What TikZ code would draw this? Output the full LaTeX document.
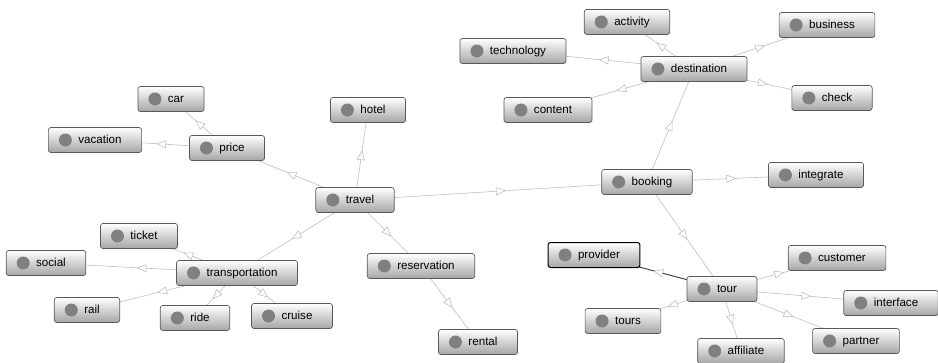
\documentclass[tikz,border=0pt]{standalone}
\usepackage{fontspec}
\setmainfont{Liberation Sans}
\usetikzlibrary{arrows.meta,decorations.markings,backgrounds}

\tikzset{
  term/.style={draw=black!65,line width=0.7pt,rounded corners=2.5pt,
    top color=white,bottom color=black!35,minimum height=25pt,
    inner xsep=0pt,inner ysep=0pt,font=\fontsize{11.6}{13}\selectfont,
    text height=8.5pt,text depth=2.5pt,
    execute at begin node={\hspace*{30pt}},
    execute at end node={\hspace*{20pt}},
    path picture={\fill[black!50]([xshift=17pt]path picture bounding box.west)circle(6.5pt);}},
  link/.style={color=black!25,line width=0.6pt,postaction={decorate},
    decoration={markings,mark=at position 0.5 with
      {\arrow[xshift=5pt]{Triangle[fill=white,color=black!25,line width=0.6pt,length=10pt,width=8pt]}}}},
  picked/.style={color=black!80,line width=0.9pt},
}

\begin{document}
\begin{tikzpicture}[x=1pt,y=-1pt]
                \useasboundingbox(0,0)rectangle(938,362);
                % Terms
                \node[term](travel)at(355,200){travel};
                \node[term](price)at(227,148){price};
                \node[term](car)at(171,99){car};
                \node[term](vacation)at(95,140){vacation};
                \node[term](hotel)at(368,110){hotel};
                \node[term](transportation)at(237,273){transportation};
                \node[term](ticket)at(139,236){ticket};
                \node[term](social)at(46,263){social};
                \node[term](rail)at(87,310){rail};
                \node[term](ride)at(195,318){ride};
                \node[term](cruise)at(292,316){cruise};
                \node[term](reservation)at(421,266){reservation};
                \node[term](rental)at(478,342){rental};
                \node[term](booking)at(647,182){booking};
                \node[term](integrate)at(816,175){integrate};
                \node[term](destination)at(694,69){destination};
                \node[term](activity)at(627,22){activity};
                \node[term](technology)at(513,51){technology};
                \node[term](content)at(548,110){content};
                \node[term](business)at(827,25){business};
                \node[term](check)at(832,98){check};
                \node[term](tour)at(722,289){tour};
                \node[term,draw=black,line width=1pt](provider)at(594,255){provider};
                \node[term](customer)at(837,258){customer};
                \node[term](interface)at(891,303){interface};
                \node[term](partner)at(856,341){partner};
                \node[term](affiliate)at(741,351){affiliate};
                \node[term](tours)at(623,321){tours};
                % Links
                \begin{pgfonlayer}{background}
                \draw[link](travel.center)--(price.center);
                \draw[link](travel.center)--(hotel.center);
                \draw[link](travel.center)--(transportation.center);
                \draw[link](travel.center)--(reservation.center);
                \draw[link](travel.center)--(booking.center);
                \draw[link](price.center)--(car.center);
                \draw[link](price.center)--(vacation.center);
                \draw[link](transportation.center)--(ticket.center);
                \draw[link](transportation.center)--(social.center);
                \draw[link](transportation.center)--(rail.center);
                \draw[link](transportation.center)--(ride.center);
                \draw[link](transportation.center)--(cruise.center);
                \draw[link](reservation.center)--(rental.center);
                \draw[link](booking.center)--(destination.center);
                \draw[link](booking.center)--(integrate.center);
                \draw[link](booking.center)--(tour.center);
                \draw[link](destination.center)--(activity.center);
                \draw[link](destination.center)--(technology.center);
                \draw[link](destination.center)--(content.center);
                \draw[link](destination.center)--(business.center);
                \draw[link](destination.center)--(check.center);
                \draw[link,picked](tour.center)--(provider.center);
                \draw[link](tour.center)--(customer.center);
                \draw[link](tour.center)--(interface.center);
                \draw[link](tour.center)--(partner.center);
                \draw[link](tour.center)--(affiliate.center);
                \draw[link](tour.center)--(tours.center);
                \end{pgfonlayer}
\end{tikzpicture}
\end{document}
